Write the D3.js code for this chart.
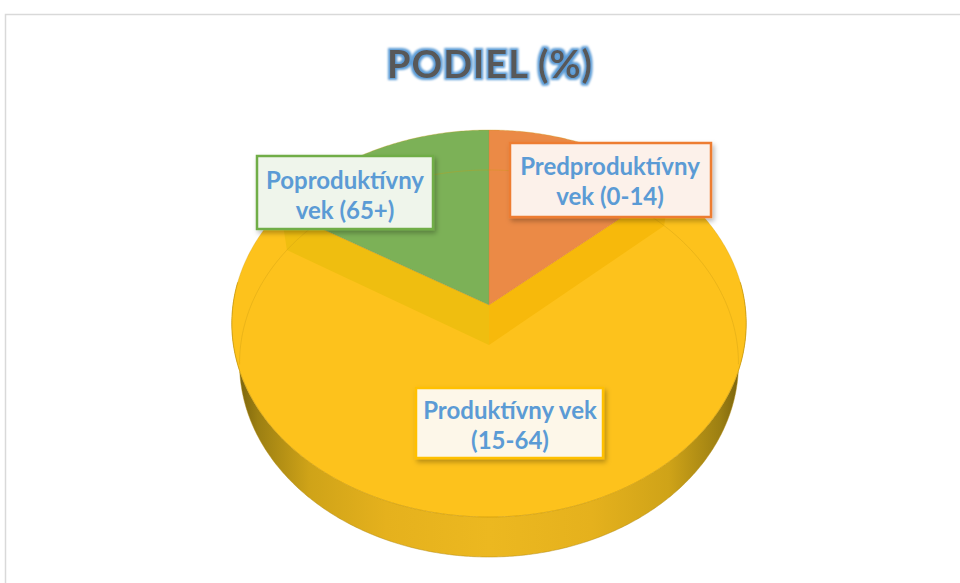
<!DOCTYPE html>
<html><head><meta charset="utf-8">
<script src="https://cdn.jsdelivr.net/npm/d3@7"></script>
<style>html,body{margin:0;padding:0;background:#fff;overflow:hidden}</style>
</head><body>
<svg id="chart" width="960" height="583"></svg>
<script>
// ---- data ----
const categories = ["Predproduktívny vek (0-14)", "Produktívny vek (15-64)", "Poproduktívny vek (65+)"];
const values = [13.5, 70.2, 16.3];
const labelLines = [["Predproduktívny", "vek (0-14)"], ["Produktívny vek", "(15-64)"], ["Poproduktívny", "vek (65+)"]];
const titleText = "PODIEL (%)";

// ---- styles / layout ----
const sliceColors = ["#eb8a46", "#fdc21c", "#7cb157"];
const bandColors = ["#f7b90b", null, "#efbe10"];
const labelBorder = ["#ed7d31", "#ffc000", "#70ad47"];
const labelFill = ["#fcf1ea", "#fdf7e9", "#eff5eb"];
const labelBox = [
  {x: 510, y: 143, w: 201, h: 74, tx: 610, ty: 175},
  {x: 416, y: 388, w: 187, h: 70, tx: 510, ty: 419},
  {x: 257, y: 156, w: 176, h: 73, tx: 345, ty: 189}
];

const W = 960, H = 583;
const svg = d3.select("#chart");
const defs = svg.append("defs");

const glow = defs.append("filter").attr("id", "glow").attr("x", "-10%").attr("y", "-40%").attr("width", "120%").attr("height", "180%");
glow.append("feMorphology").attr("in", "SourceAlpha").attr("operator", "dilate").attr("radius", 1.6).attr("result", "d");
glow.append("feGaussianBlur").attr("in", "d").attr("stdDeviation", 1.1).attr("result", "b");
glow.append("feFlood").attr("flood-color", "#5b9bd5").attr("result", "c");
glow.append("feComposite").attr("in", "c").attr("in2", "b").attr("operator", "in").attr("result", "g");
const gm = glow.append("feMerge");
gm.append("feMergeNode").attr("in", "g");
gm.append("feMergeNode").attr("in", "SourceGraphic");

const shadow = defs.append("filter").attr("id", "shadow").attr("x", "-20%").attr("y", "-20%").attr("width", "140%").attr("height", "150%");
shadow.append("feDropShadow").attr("dx", 2).attr("dy", 3).attr("stdDeviation", 2.5).attr("flood-color", "#000").attr("flood-opacity", 0.28);

const sideGrad = defs.append("linearGradient").attr("id", "side").attr("gradientUnits", "userSpaceOnUse")
  .attr("x1", 232).attr("x2", 746).attr("y1", 0).attr("y2", 0);
[[0, "#6e5a0c"], [0.05, "#9c7f12"], [0.15, "#cfa318"], [0.3, "#e5b11d"], [0.5, "#ecb820"], [0.7, "#e5b11d"], [0.85, "#cfa318"], [0.95, "#9c7f12"], [1, "#6e5a0c"]]
  .forEach(([o, c]) => sideGrad.append("stop").attr("offset", o).attr("stop-color", c));

// background + frame
svg.append("rect").attr("x", 5.5).attr("y", 14.5).attr("width", W).attr("height", H)
  .attr("fill", "#fff").attr("stroke", "#d9d9d9").attr("stroke-width", 1.5);

// title
svg.append("text").attr("x", 490).attr("y", 78).attr("text-anchor", "middle")
  .attr("font-family", "Lato, 'Open Sans', sans-serif").attr("font-weight", 700).attr("font-size", 38)
  .attr("letter-spacing", 1).attr("fill", "#595959").attr("filter", "url(#glow)").text(titleText);

// ---- 3D pie projection ----
const cx = 489, cy = 305, R = 256, K = 0.749, D = 2678, DEPTH = 40;
function proj(a, depth = 0, r = R) {
  const u = r * Math.sin(a), v = r * Math.cos(a);
  const s = D / (D + v);
  const shrink = 1 - 0.03 * depth / DEPTH;
  return [cx + u * s * shrink, cy - v * K * s + depth];
}
function rimPoints(a0, a1, depth = 0) {
  const n = Math.max(2, Math.ceil(Math.abs(a1 - a0) / 0.01));
  return d3.range(n + 1).map(i => proj(a0 + (a1 - a0) * i / n, depth));
}
const line = d3.line();
const arcs = d3.pie().sort(null).value(d => d)(values);

const g = svg.append("g");

// side wall (front)
const aL = Math.PI / 2 - 0.12, aR = 3 * Math.PI / 2 + 0.12;
const sidePts = rimPoints(aL, aR, 0).concat(rimPoints(aR, aL, DEPTH));
g.append("path").attr("d", line(sidePts) + "Z").attr("fill", "url(#side)");
g.append("path").attr("d", line(rimPoints(aL, aR, DEPTH))).attr("fill", "none")
  .attr("stroke", "#b08a14").attr("stroke-width", 0.8).attr("opacity", 0.6);

// top faces
function topPath(a) {
  return line([[cx, cy]].concat(rimPoints(a.startAngle, a.endAngle, 0))) + "Z";
}
// yellow first
g.append("path").attr("d", topPath(arcs[1])).attr("fill", sliceColors[1]);

// front edge line between top and side
g.append("path").attr("d", line(rimPoints(aL, aR, 0))).attr("fill", "none")
  .attr("stroke", "#d9a512").attr("stroke-width", 1).attr("opacity", 0.7);

// visible inner cut faces of the yellow slice (bands)
[[0, arcs[0].endAngle], [2, arcs[2].startAngle]].forEach(([i, ang]) => {
  const pts = [[cx, cy], proj(ang, 0), proj(ang, DEPTH), [cx, cy + DEPTH]];
  g.append("path").attr("d", line(pts) + "Z").attr("fill", bandColors[i]);
});

// orange & green tops
[0, 2].forEach(i => {
  g.append("path").attr("d", topPath(arcs[i])).attr("fill", sliceColors[i]);
});
// slice boundary lines
[arcs[0].startAngle, arcs[0].endAngle, arcs[2].startAngle].forEach(ang => {
  g.append("path").attr("d", line([[cx, cy], proj(ang, 0)])).attr("stroke", "#c9701f")
    .attr("stroke-width", 0.6).attr("opacity", 0.4);
});

// faint back bottom rim seen through
g.append("path").attr("d", line(rimPoints(-Math.PI / 2 - 0.1, Math.PI / 2 + 0.1, DEPTH))).attr("fill", "none")
  .attr("stroke", "#c89a14").attr("stroke-width", 1).attr("opacity", 0.35);

// outline of top
g.append("path").attr("d", line(rimPoints(0, 2 * Math.PI, 0)) + "Z").attr("fill", "none")
  .attr("stroke", "#c99a12").attr("stroke-width", 0.6).attr("opacity", 0.5);

// ---- labels ----
const lab = svg.append("g");
labelBox.forEach((b, i) => {
  lab.append("rect").attr("x", b.x).attr("y", b.y).attr("width", b.w).attr("height", b.h)
    .attr("fill", labelFill[i]).attr("stroke", labelBorder[i]).attr("stroke-width", 2.5)
    .attr("filter", "url(#shadow)");
  labelLines[i].forEach((t, j) => {
    lab.append("text").attr("x", b.tx).attr("y", b.ty + j * 30).attr("text-anchor", "middle")
      .attr("font-family", "Lato, 'Open Sans', sans-serif").attr("font-weight", 700).attr("font-size", 24)
      .attr("fill", "#5b9bd5").text(t);
  });
});
</script>
</body></html>
